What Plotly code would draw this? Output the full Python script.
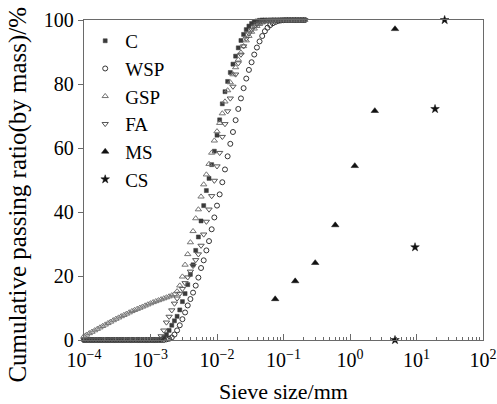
import plotly.graph_objects as go

# Sieve sizes (mm) of the laser-diffraction size classes
sizes_mm = [
    0.0001, 0.0001096, 0.0001202, 0.0001318, 0.0001445, 0.0001585, 0.0001738, 0.0001905, 0.0002089, 0.0002291,
    0.0002512, 0.0002754, 0.000302, 0.0003311, 0.0003631, 0.0003981, 0.0004365, 0.0004786, 0.0005248, 0.0005754,
    0.000631, 0.0006918, 0.0007586, 0.0008318, 0.000912,
    0.001, 0.001096, 0.001202, 0.001318, 0.001445, 0.001585, 0.001738, 0.001905, 0.002089, 0.002291,
    0.002512, 0.002754, 0.00302, 0.003311, 0.003631, 0.003981, 0.004365, 0.004786, 0.005248, 0.005754,
    0.00631, 0.006918, 0.007586, 0.008318, 0.00912,
    0.01, 0.01096, 0.01202, 0.01318, 0.01445, 0.01585, 0.01738, 0.01905, 0.02089, 0.02291,
    0.02512, 0.02754, 0.0302, 0.03311, 0.03631, 0.03981, 0.04365, 0.04786, 0.05248, 0.05754,
    0.0631, 0.06918, 0.07586, 0.08318, 0.0912,
    0.1, 0.1096, 0.1202, 0.1318, 0.1445, 0.1585, 0.1738, 0.1905, 0.2089,
]

c_pass = [
    0, 0, 0, 0, 0, 0, 0, 0, 0, 0, 0, 0, 0, 0, 0, 0, 0, 0, 0, 0, 0, 0, 0, 0, 0, 0, 0, 0, 0,
    0.3, 0.8, 1.7, 3.0, 4.6, 6.0, 7.4, 9.4, 12.0, 14.5, 17.3, 20.5, 23.5, 28.0, 32.2, 37.2, 42.0, 46.7,
    50.5, 54.8, 59.0, 64.0, 68.8, 73.8, 77.6, 80.8, 83.6, 86.2, 88.7, 91.3, 93.6, 95.5, 97.0, 98.1,
    98.9, 99.4, 99.7, 99.9,
    100, 100, 100, 100, 100, 100, 100, 100, 100, 100, 100, 100, 100, 100, 100, 100, 100,
]

wsp_pass = [
    0, 0, 0, 0, 0, 0, 0, 0, 0, 0, 0, 0, 0, 0, 0, 0, 0, 0, 0, 0, 0, 0, 0, 0, 0, 0, 0, 0, 0, 0, 0,
    0.2, 0.4, 0.8, 1.7, 3.0, 4.6, 6.5, 8.6, 10.8, 12.8, 14.8, 17.0, 19.5, 22.5, 24.9, 28.0, 30.9,
    34.6, 38.3, 42.0, 45.5, 49.3, 53.3, 57.4, 61.3, 65.0, 68.7, 72.2, 75.5, 78.7, 81.7, 84.4, 86.8,
    89.2, 91.4, 93.3, 95.0, 96.5, 97.6, 98.4, 99.0, 99.4, 99.7, 99.85, 99.95,
    100, 100, 100, 100, 100, 100, 100, 100,
]

gsp_pass = [
    1.2, 1.65, 2.1, 2.55, 3.0, 3.45, 3.9, 4.35, 4.8, 5.25, 5.7, 6.15, 6.6, 7.0, 7.4, 7.8, 8.2, 8.6,
    9.0, 9.35, 9.7, 10.05, 10.4, 10.75, 11.1, 11.45, 11.8, 12.1, 12.4, 12.7, 13.0, 13.3, 13.6, 13.95,
    14.3,
    15.2, 17.0, 19.8, 23.5, 26.8, 30.5, 34.0, 38.0, 40.8, 44.8, 48.6, 51.7, 55.0, 58.5, 62.3, 65.2,
    67.8, 70.8, 74.5, 78.0, 80.5, 83.0, 85.2, 87.6, 89.8, 91.8, 93.6, 95.0, 96.3, 97.3, 98.1, 98.7,
    99.2, 99.5, 99.7, 99.85,
    100, 100, 100, 100, 100, 100, 100, 100, 100, 100, 100, 100, 100,
]

fa_pass = [
    0, 0, 0, 0, 0, 0, 0, 0, 0, 0, 0, 0, 0, 0, 0, 0, 0, 0, 0, 0, 0, 0, 0, 0, 0, 0, 0, 0,
    0.3, 1.2, 3.0, 5.5, 7.3, 9.3, 11.4, 13.0, 14.5, 16.0, 17.8, 19.6, 21.4, 23.2, 25.0, 26.8, 29.5,
    33.0, 37.0, 40.8, 45.0, 49.8, 54.3, 58.5, 63.5, 67.5, 71.5, 75.5, 79.2, 83.0, 86.5, 89.2, 91.8,
    94.2, 95.8, 97.0, 98.0, 98.7, 99.2, 99.5, 99.7, 99.85,
    100, 100, 100, 100, 100, 100, 100, 100, 100, 100, 100, 100, 100, 100,
]

ms_size = [0.075, 0.15, 0.3, 0.6, 1.18, 2.36, 4.75]
ms_pass = [12.8, 18.4, 24.1, 35.9, 54.4, 71.6, 97.2]

cs_size = [4.75, 9.5, 19.0, 26.5]
cs_pass = [0, 29.0, 72.2, 100]

x_tickvals = [1e-4, 1e-3, 1e-2, 1e-1, 1e0, 1e1, 1e2]
x_ticktext = ["10<sup>\u22124</sup>", "10<sup>\u22123</sup>", "10<sup>\u22122</sup>",
              "10<sup>\u22121</sup>", "10<sup>0</sup>", "10<sup>1</sup>", "10<sup>2</sup>"]
y_tickvals = [0, 20, 40, 60, 80, 100]

FONT = "Liberation Serif, Times New Roman, serif"

fig = go.Figure()

def add(name, x, y, symbol, color, size, fill=None, lw=1):
    fig.add_trace(go.Scatter(
        x=x, y=y, mode="markers", name=name, cliponaxis=False,
        marker=dict(symbol=symbol, size=size, color=fill if fill else color,
                    line=dict(color=color, width=lw)),
    ))

add("C", sizes_mm, c_pass, "square", "#3a3a3a", 4, "#3a3a3a", 0.5)
add("WSP", sizes_mm, wsp_pass, "circle-open", "#333333", 5)
add("GSP", sizes_mm, gsp_pass, "triangle-up-open", "#747474", 5.5)
add("FA", sizes_mm, fa_pass, "triangle-down-open", "#555555", 5.5)
add("MS", ms_size, ms_pass, "triangle-up", "#111111", 6.5, "#111111", 0.5)
add("CS", cs_size, cs_pass, "star", "#111111", 6.5, "#111111", 0.5)

axis_line = "#6a6a6a"

fig.update_layout(
    width=497, height=404,
    margin=dict(l=84, r=14, t=20, b=64, autoexpand=False),
    paper_bgcolor="white", plot_bgcolor="white",
    font=dict(family=FONT, size=20, color="black"),
    showlegend=True,
    legend=dict(x=0.003, y=0.994, xanchor="left", yanchor="top",
                bgcolor="rgba(0,0,0,0)", borderwidth=0,
                font=dict(family=FONT, size=19, color="black"),
                tracegroupgap=0, itemsizing="trace"),
    xaxis=dict(
        type="log", range=[-4, 2],
        tickvals=x_tickvals, ticktext=x_ticktext,
        ticks="inside", ticklen=6, tickcolor=axis_line, tickwidth=1,
        minor=dict(ticks="inside", ticklen=3, tickcolor=axis_line, dtick="D1", showgrid=False),
        showline=True, linecolor=axis_line, linewidth=1.3, mirror=True,
        showgrid=False, zeroline=False, automargin=False,
        ticklabelstandoff=2,
        tickfont=dict(family=FONT, size=20, color="black"),
        title=dict(text="Sieve size/mm", font=dict(family=FONT, size=22, color="black"), standoff=14),
    ),
    yaxis=dict(
        range=[0, 100], tickvals=y_tickvals,
        ticks="outside", ticklen=5, tickcolor=axis_line, tickwidth=1,
        showline=True, linecolor=axis_line, linewidth=1.3, mirror=True,
        showgrid=False, zeroline=False, automargin=False,
        tickfont=dict(family=FONT, size=20, color="black"),
    ),
    annotations=[dict(
        text="Cumulative passing ratio(by mass)/%", textangle=-90,
        xref="paper", yref="paper", x=-0.165, y=0.455, xanchor="center", yanchor="middle",
        showarrow=False, font=dict(family=FONT, size=25, color="black"),
    )],
)

fig.write_html("out.html")
